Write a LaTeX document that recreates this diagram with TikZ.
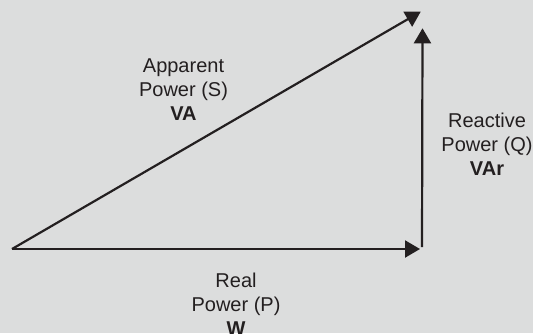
\documentclass[tikz,border=0pt]{standalone}
\usepackage{fontspec}
\setmainfont{Liberation Sans}
\usepackage{tikz}
\usepackage{xcolor}
\usetikzlibrary{arrows.meta,positioning,calc}
\definecolor{bggray}{RGB}{220,221,221}
\definecolor{vecdark}{RGB}{35,31,32}
\tikzset{
  vec/.style={-{Triangle[length=7.5pt,width=8.5pt]}, line width=1.1pt, color=vecdark},
  lbl/.style={align=center, inner sep=0pt, text=vecdark,
    font=\fontsize{10}{12}\selectfont}
}

\begin{document}
\begin{tikzpicture}[x=0.5pt,y=0.5pt]

\clip (0,0) rectangle (533,333);
\fill[bggray] (0,0) rectangle (533,333);

%% Corners of the triangle
\coordinate (o)      at (12,84);
\coordinate (pend)   at (420,84);
\coordinate (qstart) at (422,86);
\coordinate (qend)   at (422.5,304.7);
\coordinate (send)   at (420.7,321.3);

%% Labels
\node[lbl] (apparent) at (183.5,243.3) {Apparent\\Power (S)\\\textbf{VA}};
\node[lbl] (reactive) at (487,188.3)   {Reactive\\Power (Q)\\\textbf{VAr}};
\node[lbl] (real)     at (236,28.6)    {Real\\Power (P)\\\textbf{W}};

%% Power vectors
\draw[vec] (o)--(pend);
\draw[vec] (qstart)--(qend);
\draw[vec] (o)--(send);

\end{tikzpicture}
\end{document}
